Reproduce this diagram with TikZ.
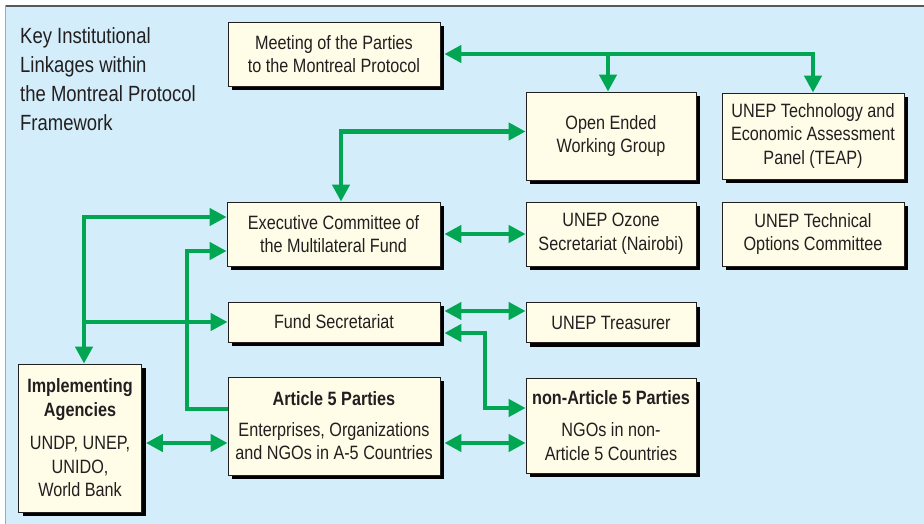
\documentclass[tikz,border=0pt]{standalone}
\usepackage{fontspec}
\setmainfont{Liberation Sans}[FakeStretch=0.84]
\usetikzlibrary{arrows.meta,shadows,calc}
\definecolor{bg}{RGB}{211,238,250}
\definecolor{cream}{RGB}{255,253,232}
\definecolor{grn}{RGB}{0,166,81}
\definecolor{txt}{RGB}{35,31,32}
\definecolor{frame}{RGB}{88,89,91}
\begin{document}
\begin{tikzpicture}[x=1pt,y=-1pt,
  box/.style={draw=txt, line width=0.8pt, fill=cream,
    drop shadow={shadow xshift=4pt, shadow yshift=-4pt, fill=black, opacity=1},
    align=center, inner sep=2pt, font=\fontsize{19.3}{23.5}\selectfont, text=txt},
  titletext/.style={anchor=north west, align=left, inner sep=0pt,
    font=\fontsize{22}{29}\selectfont, text=txt},
  arr/.style={draw=grn, line width=4.6pt, line join=miter, line cap=butt},
  >={Triangle[length=17pt,width=17pt]}]
\useasboundingbox (0,0) rectangle (924,524);
\fill[white] (0,0) rectangle (924,524);
\fill[bg] (5,5) rectangle (924,524);
\draw[frame, line width=1.8pt] (5,5.9) -- (924,5.9);
\draw[gray!70, line width=1.2pt] (5.6,5) -- (5.6,524);

\node[titletext] (ttl) at (20,27) {Key Institutional\\Linkages within\\the Montreal Protocol\\Framework};

\node[box, minimum width=212pt, minimum height=64pt] (meet) at (334,54) {Meeting of the Parties\\to the Montreal Protocol};
\node[box, minimum width=170pt, minimum height=88pt] (oewg) at (611,136) {Open Ended\\Working Group};
\node[box, minimum width=182pt, minimum height=86pt] (teap) at (813,136) {UNEP Technology and\\Economic Assessment\\Panel (TEAP)};
\node[box, minimum width=213pt, minimum height=64pt] (exec) at (333.5,234) {Executive Committee of\\the Multilateral Fund};
\node[box, minimum width=170pt, minimum height=64pt] (ozone) at (611,234) {UNEP Ozone\\Secretariat (Nairobi)};
\node[box, minimum width=182pt, minimum height=64pt] (tech) at (813,234) {UNEP Technical\\Options Committee};
\node[box, minimum width=212pt, minimum height=40pt] (fund) at (334,322) {Fund Secretariat};
\node[box, minimum width=170pt, minimum height=40pt] (treas) at (611,322.5) {UNEP Treasurer};
\node[box, minimum width=212pt, minimum height=98pt] (art5) at (334,426) {\textbf{Article 5 Parties}\\[7pt]Enterprises, Organizations\\and NGOs in A-5 Countries};
\node[box, minimum width=170pt, minimum height=95pt] (nart5) at (611,425.5) {\textbf{non-Article 5 Parties}\\[9pt]NGOs in non-\\Article 5 Countries};
\node[box, minimum width=123pt, minimum height=148pt] (impl) at (80,438) {\textbf{Implementing}\\\textbf{Agencies}\\[10pt]UNDP, UNEP,\\UNIDO,\\World Bank};

% connectors
\coordinate (j1) at (608,54);
\draw[arr,<->] ([xshift=4pt]meet.east) -| (teap.north);
\draw[arr,->] (j1) -- (j1 |- oewg.north);

\coordinate (k2) at (341,131.5);
\draw[arr,<->] (k2 |- exec.north) -- (k2) -- (k2 -| oewg.west);

\draw[arr,<->] ([xshift=4pt]exec.east) -- (ozone.west);

\coordinate (k4) at (84,217);
\draw[arr,<->] (k4 -| exec.west) -- (k4) -- (k4 |- impl.north);
\draw[arr,->] (k4 |- fund.west) -- (fund.west);

\coordinate (k5) at (187,251);
\coordinate (k5b) at (187,409);
\draw[arr,->] (k5b -| art5.west) -- (k5b) -- (k5) -- (k5 -| exec.west);

\coordinate (k6) at (485,311);
\draw[arr,<->] ([xshift=4pt]k6 -| fund.east) -- (k6 -| treas.west);

\coordinate (k7) at (485,333);
\coordinate (k7b) at (485,408);
\draw[arr,<->] ([xshift=4pt]k7 -| fund.east) -- (k7) -- (k7b) -- (k7b -| nart5.west);

\coordinate (k8) at (0,443);
\draw[arr,<->] ([xshift=4pt]k8 -| art5.east) -- (k8 -| nart5.west);
\draw[arr,<->] ([xshift=4pt]k8 -| impl.east) -- (k8 -| art5.west);
\end{tikzpicture}
\end{document}
